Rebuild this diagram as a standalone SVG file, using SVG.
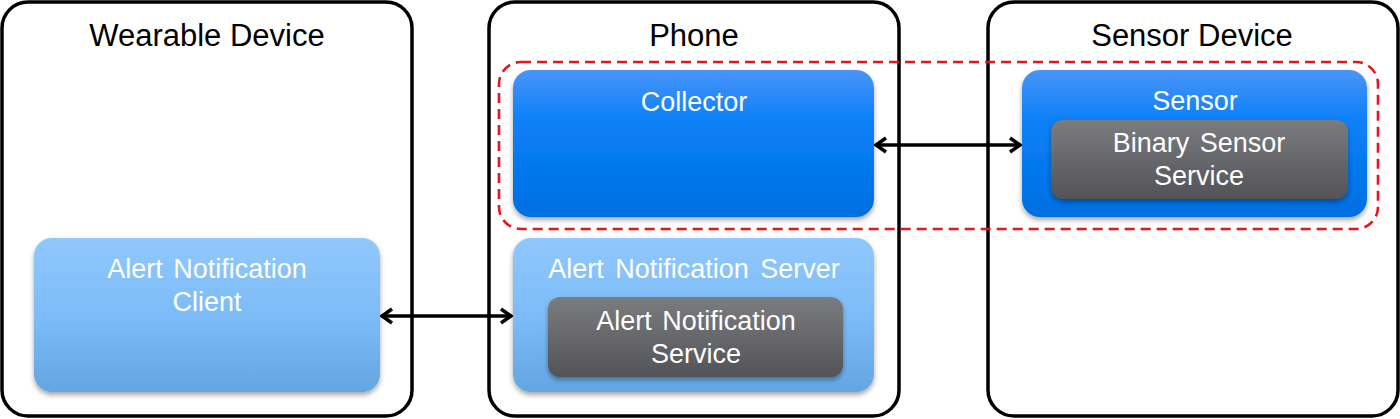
<svg xmlns="http://www.w3.org/2000/svg" width="1400" height="419" viewBox="0 0 1400 419">
<style>
.frame{fill:#fff;stroke:#000;stroke-width:3.5}
.title{font-family:"Liberation Sans",Arial,sans-serif;font-size:31px;fill:#000;text-anchor:middle}
.lbl{font-family:"Liberation Sans",Arial,sans-serif;font-size:27px;fill:#fff;text-anchor:middle}
.conn{stroke:#000;stroke-width:3.5;fill:none;marker-start:url(#ah);marker-end:url(#ah)}
</style>
<defs>
<linearGradient id="gBlue" x1="0" y1="0" x2="0" y2="1">
<stop offset="0" stop-color="#4a94f8"/><stop offset="0.35" stop-color="#0a80f8"/><stop offset="1" stop-color="#006fe0"/>
</linearGradient>
<linearGradient id="gLight" x1="0" y1="0" x2="0" y2="1">
<stop offset="0" stop-color="#90c8fc"/><stop offset="0.5" stop-color="#7dbcf8"/><stop offset="1" stop-color="#62a6e2"/>
</linearGradient>
<linearGradient id="gDark" x1="0" y1="0" x2="0" y2="1">
<stop offset="0" stop-color="#7b7c80"/><stop offset="1" stop-color="#525357"/>
</linearGradient>
<filter id="sh" x="-10%" y="-10%" width="120%" height="130%">
<feDropShadow dx="0" dy="3" stdDeviation="2.5" flood-color="#000" flood-opacity="0.35"/>
</filter>
<marker id="ah" viewBox="0 0 16 18" refX="14" refY="9" markerWidth="16" markerHeight="18" markerUnits="userSpaceOnUse" orient="auto-start-reverse">
<path d="M4,2 L14,9 L4,16" fill="none" stroke="#000" stroke-width="3.5"/>
</marker>
</defs>

<g id="wearable">
<rect class="frame" x="2" y="2" width="410" height="414" rx="26"/>
<text class="title" x="207" y="46">Wearable Device</text>
</g>
<g id="phone">
<rect class="frame" x="489" y="2" width="410" height="414" rx="26"/>
<text class="title" x="694" y="46">Phone</text>
</g>
<g id="sensor-device">
<rect class="frame" x="988" y="2" width="410" height="414" rx="26"/>
<text class="title" x="1192" y="46">Sensor Device</text>
</g>

<g id="group-highlight">
<rect x="499" y="62" width="879" height="167" rx="22" fill="none" stroke="#e8141c" stroke-width="2.6" stroke-dasharray="10,6"/>
</g>

<g id="collector">
<rect x="513" y="70" width="361" height="147" rx="18" fill="url(#gBlue)" filter="url(#sh)"/>
<text class="lbl" x="694" y="111">Collector</text>
</g>

<g id="sensor">
<rect x="1022" y="70" width="345" height="147" rx="18" fill="url(#gBlue)" filter="url(#sh)"/>
<text class="lbl" x="1195" y="110">Sensor</text>
</g>
<g id="binary-sensor-service">
<rect x="1051" y="120" width="297" height="79" rx="12" fill="url(#gDark)" filter="url(#sh)"/>
<text class="lbl" x="1199" y="152" style="word-spacing:3px">Binary Sensor</text>
<text class="lbl" x="1199" y="185">Service</text>
</g>

<g id="alert-client">
<rect x="34" y="238" width="346" height="154" rx="18" fill="url(#gLight)" filter="url(#sh)"/>
<text class="lbl" x="207" y="278" style="word-spacing:3px">Alert Notification</text>
<text class="lbl" x="207" y="311">Client</text>
</g>

<g id="alert-server">
<rect x="513" y="238" width="361" height="154" rx="18" fill="url(#gLight)" filter="url(#sh)"/>
<text class="lbl" x="694" y="278" style="word-spacing:4px">Alert Notification Server</text>
</g>
<g id="alert-service">
<rect x="548" y="297" width="295" height="80" rx="12" fill="url(#gDark)" filter="url(#sh)"/>
<text class="lbl" x="696" y="330" style="word-spacing:3px">Alert Notification</text>
<text class="lbl" x="696" y="363">Service</text>
</g>

<g id="connectors">
<line class="conn" x1="382" y1="316" x2="511" y2="316"/>
<line class="conn" x1="876" y1="145" x2="1020" y2="145"/>
</g>
</svg>
